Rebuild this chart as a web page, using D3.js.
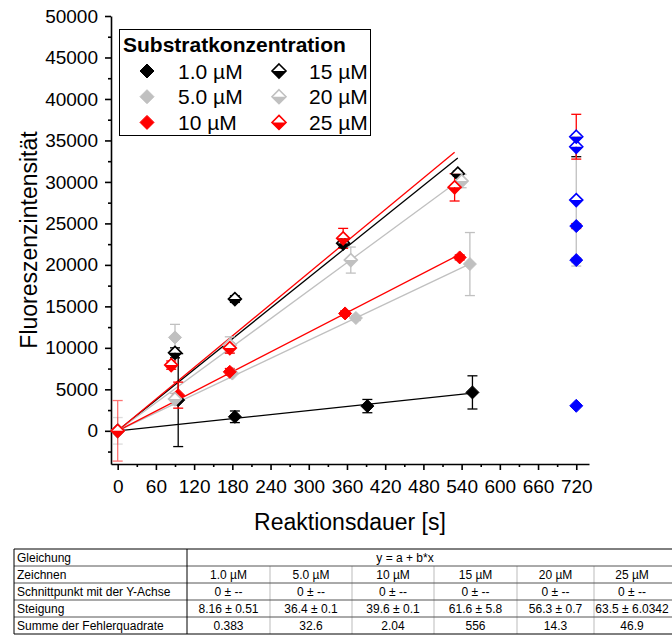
<!DOCTYPE html>
<html><head><meta charset="utf-8">
<script src="https://cdn.jsdelivr.net/npm/d3@7"></script>
<style>body{margin:0;background:#fff;}svg{display:block;font-family:"Liberation Sans",Arial,sans-serif;}</style>
</head><body>
<svg id="c" width="672" height="636"></svg>
<script>
// ---- data ----
const seriesNames = ["1.0 µM","5.0 µM","10 µM","15 µM","20 µM","25 µM"];
const seriesColors = ["#000000","#c0c0c0","#ff0000","#000000","#c0c0c0","#ff0000"];
const seriesHalf = [false,false,false,true,true,true];
const slopes = [8.16,36.4,39.6,61.6,56.3,63.5];
const t1 = [0,95,184,392,557],   v1 = [0,3700,1690,2980,4630],     e1 = [0,5600,700,800,2000];
const t2 = [0,90,180,374,553],   v2 = [0,11260,6900,13600,20100],  e2 = [1600,1570,0,300,3800];
const t3 = [0,95,176,357,537],   v3 = [0,4300,7110,14150,20900],   e3 = [0,1570,400,300,300];
const t4 = [0,90,184,354,534],   v4 = [0,9400,15880,22600,31000],  e4 = [0,600,400,500,300];
const t5 = [0,90,176,366,540],   v5 = [0,3820,10330,20580,30100],  e5 = [0,700,1000,1570,800];
const t6 = [0,84,176,354,529],   v6 = [0,7920,9970,23200,29350],   e6 = [3650,500,600,1200,1650];
const tLate = 720;
const vLate = [3014,20580,24680,34240,27810,35450];
const eLate = [0,300,300,1200,7950,2700];
const xTicks = [0,60,120,180,240,300,360,420,480,540,600,660,720];
const yTicks = [0,5000,10000,15000,20000,25000,30000,35000,40000,45000,50000];
const tableRows = ["Gleichung","Zeichnen","Schnittpunkt mit der Y-Achse","Steigung","Summe der Fehlerquadrate"];
const tableEquation = "y = a + b*x";
const tableIntercept = ["0 ± --","0 ± --","0 ± --","0 ± --","0 ± --","0 ± --"];
const tableSlope = ["8.16 ± 0.51","36.4 ± 0.1","39.6 ± 0.1","61.6 ± 5.8","56.3 ± 0.7","63.5 ± 6.0342"];
const tableSSE = ["0.383","32.6","2.04","556","14.3","46.9"];

const T=[t1,t2,t3,t4,t5,t6], V=[v1,v2,v3,v4,v5,v6], E=[e1,e2,e3,e4,e5,e6];
const svg = d3.select("#c");
const x = d3.scaleLinear().domain([-10.5,740]).range([111,589]);
const y = d3.scaleLinear().domain([-4000,50000]).range([464,16]);

// axes
const xAx = svg.append("g").attr("transform","translate(0,464)")
  .call(d3.axisBottom(x).tickValues(xTicks).tickSize(6).tickPadding(10).tickSizeOuter(0));
const xMin = svg.append("g").attr("transform","translate(0,464)")
  .call(d3.axisBottom(x).tickValues(d3.range(30,721,60)).tickSize(3).tickFormat("").tickSizeOuter(0));
const yAx = svg.append("g").attr("transform","translate(111,0)")
  .call(d3.axisLeft(y).tickValues(yTicks).tickSize(6).tickPadding(7).tickFormat(d3.format("d")).tickSizeOuter(0));
const yMin = svg.append("g").attr("transform","translate(111,0)")
  .call(d3.axisLeft(y).tickValues(d3.range(-2500,50000,5000)).tickSize(3).tickFormat("").tickSizeOuter(0));
[xAx,xMin,yAx,yMin].forEach(g=>{g.attr("font-family",null);g.selectAll("path,line").attr("stroke","#000").attr("stroke-width",1.6);});
xMin.select("path").remove(); yMin.select("path").remove();
xAx.selectAll("text").attr("font-size",19).attr("fill","#000");
yAx.selectAll("text").attr("font-size",19).attr("fill","#000");

svg.append("text").attr("x",350).attr("y",530).attr("text-anchor","middle").attr("font-size",23).text("Reaktionsdauer [s]");
svg.append("text").attr("transform","translate(37,240) rotate(-90)").attr("text-anchor","middle").attr("font-size",23).text("Fluoreszenzintensität");

// fit lines
const line = d3.line().x(d=>x(d[0])).y(d=>y(d[1]));
slopes.forEach((b,i)=>{
  const tm = d3.max(T[i]);
  svg.append("path").attr("d",line([[0,0],[tm,b*tm]])).attr("fill","none")
    .attr("stroke",seriesColors[i]).attr("stroke-width",1.3);
});

// error bars
function errBar(cx,cy,e,col,op){
  if(!e) return;
  const g=svg.append("g").attr("stroke",col).attr("stroke-width",1.3).attr("opacity",op);
  g.append("line").attr("x1",x(cx)).attr("x2",x(cx)).attr("y1",y(cy-e)).attr("y2",y(cy+e));
  [cy-e,cy+e].forEach(v=>g.append("line").attr("x1",x(cx)-5).attr("x2",x(cx)+5).attr("y1",y(v)).attr("y2",y(v)));
}
T.forEach((ts,i)=>ts.forEach((t,j)=>errBar(t,V[i][j],E[i][j],seriesColors[i],j===0?0.55:1)));
vLate.forEach((v,i)=>errBar(tLate,v,eLate[i],seriesColors[i],1));

// markers
function marker(g,cx,cy,col,half,r){
  if(!half){
    g.append("path").attr("d",`M${cx},${cy-r}L${cx+r},${cy}L${cx},${cy+r}L${cx-r},${cy}Z`).attr("fill",col).attr("stroke",col).attr("stroke-width",1);
  } else {
    g.append("path").attr("d",`M${cx},${cy-r}L${cx+r},${cy}L${cx-r},${cy}Z`).attr("fill","#fff");
    g.append("path").attr("d",`M${cx-r},${cy}L${cx+r},${cy}L${cx},${cy+r}Z`).attr("fill",col);
    g.append("path").attr("d",`M${cx},${cy-r}L${cx+r},${cy}L${cx},${cy+r}L${cx-r},${cy}Z`).attr("fill","none").attr("stroke",col).attr("stroke-width",1.6);
  }
}
const mg = svg.append("g");
T.forEach((ts,i)=>ts.forEach((t,j)=>marker(mg,x(t),y(V[i][j]),seriesColors[i],seriesHalf[i],6.5)));
vLate.forEach((v,i)=>marker(mg,x(tLate),y(v),"#0000ff",seriesHalf[i],6.5));

// legend
const lg = svg.append("g");
lg.append("rect").attr("x",119.5).attr("y",29.5).attr("width",251).attr("height",106).attr("fill","#fff").attr("stroke","#000").attr("stroke-width",1);
lg.append("text").attr("x",123).attr("y",52).attr("font-size",21).attr("font-weight","bold").text("Substratkonzentration");
seriesNames.forEach((n,i)=>{
  const col=Math.floor(i/3), row=i%3;
  const cy=71+row*25.7;
  marker(lg,col?279:147,cy,seriesColors[i],seriesHalf[i],7);
  lg.append("text").attr("x",col?309:178).attr("y",cy+7.5).attr("font-size",21).text(n);
});

// table
const cols=[14,187,270,352,434,517,594,676];
const rowsY=[549,566,583,600,617,634];
const tb=svg.append("g").attr("font-size",12);
for(let k=2;k<cols.length;k++) tb.append("line").attr("x1",cols[k]).attr("x2",cols[k]).attr("y1",rowsY[1]).attr("y2",rowsY[5]).attr("stroke","#bbb");
rowsY.forEach((yy,k)=>tb.append("line").attr("x1",cols[0]).attr("x2",672).attr("y1",yy).attr("y2",yy).attr("stroke",k===0||k===5?"#000":"#555").attr("stroke-width",1));
[cols[0],cols[1]].forEach(xx=>tb.append("line").attr("x1",xx).attr("x2",xx).attr("y1",rowsY[0]).attr("y2",rowsY[5]).attr("stroke","#000"));
tableRows.forEach((r,k)=>tb.append("text").attr("x",cols[0]+3).attr("y",rowsY[k]+13).text(r));
tb.append("text").attr("x",405).attr("y",rowsY[0]+13).attr("text-anchor","middle").text(tableEquation);
[seriesNames,tableIntercept,tableSlope,tableSSE].forEach((arr,k)=>{
  arr.forEach((s,c)=>{
    const cx = c===5 ? 632 : (cols[c+1]+cols[c+2])/2;
    tb.append("text").attr("x",cx).attr("y",rowsY[k+1]+13).attr("text-anchor","middle").text(s);
  });
});
</script>
</body></html>
